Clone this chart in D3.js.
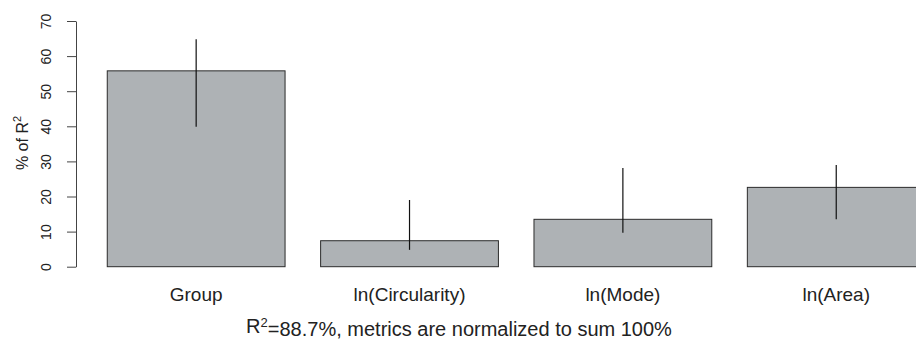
<!DOCTYPE html>
<html>
<head>
<meta charset="utf-8">
<script src="https://cdn.jsdelivr.net/npm/d3@7"></script>
<style>
  body { margin: 0; background: #fff; }
  svg { display: block; font-family: "Liberation Sans", Arial, Helvetica, sans-serif; }
</style>
</head>
<body>
<svg width="916" height="343"></svg>
<script>
// data
const categories = ["Group", "ln(Circularity)", "ln(Mode)", "ln(Area)"];
const values = [55.8, 7.4, 13.5, 22.6];
const lower = [39.9, 4.8, 9.7, 13.5];
const upper = [64.8, 19.0, 28.1, 29.0];
const yTicks = [0, 10, 20, 30, 40, 50, 60, 70];

const svg = d3.select("svg");

// R barplot style: width 1, space 0.2
const x = d3.scaleLinear().domain([0, 5]).range([71.7, 960.7]);
const y = d3.scaleLinear().domain([0, 70]).range([266.7, 21]);

const barLeft = i => 0.2 + i * 1.2;

// bars
svg.selectAll("rect.bar")
  .data(values)
  .enter()
  .append("rect")
  .attr("class", "bar")
  .attr("x", (d, i) => x(barLeft(i)))
  .attr("y", d => y(d))
  .attr("width", x(1) - x(0))
  .attr("height", d => y(0) - y(d))
  .attr("fill", "#aeb2b5")
  .attr("stroke", "#2b2b2b")
  .attr("stroke-width", 1);

// error bars
svg.selectAll("line.err")
  .data(values)
  .enter()
  .append("line")
  .attr("class", "err")
  .attr("x1", (d, i) => x(barLeft(i) + 0.5))
  .attr("x2", (d, i) => x(barLeft(i) + 0.5))
  .attr("y1", (d, i) => y(lower[i]))
  .attr("y2", (d, i) => y(upper[i]))
  .attr("stroke", "#111")
  .attr("stroke-width", 1.2);

// y axis
const yAxis = svg.append("g")
  .attr("transform", "translate(76,0)")
  .call(d3.axisLeft(y).tickValues(yTicks).tickSize(9).tickSizeOuter(0));

yAxis.select(".domain").attr("stroke", "#444");
yAxis.selectAll(".tick line").attr("stroke", "#444");
yAxis.selectAll(".tick text")
  .attr("transform", "rotate(-90)")
  .attr("x", 0)
  .attr("y", -30)
  .attr("dy", null)
  .attr("dominant-baseline", "central")
  .attr("text-anchor", "middle")
  .attr("fill", "#222")
  .style("font-size", "14px")
  .style("font-family", "'Liberation Sans', Arial, sans-serif");

// y title
const yTitle = svg.append("text")
  .attr("transform", "translate(22,143) rotate(-90)")
  .attr("text-anchor", "middle")
  .attr("dominant-baseline", "central")
  .attr("fill", "#222")
  .style("font-size", "16px");
yTitle.append("tspan").text("% of R");
yTitle.append("tspan").attr("dy", "-0.45em").style("font-size", "11px").text("2");

// category labels
svg.selectAll("text.cat")
  .data(categories)
  .enter()
  .append("text")
  .attr("class", "cat")
  .attr("x", (d, i) => x(barLeft(i) + 0.5))
  .attr("y", 301)
  .attr("text-anchor", "middle")
  .attr("fill", "#222")
  .style("font-size", "19px")
  .text(d => d);

// bottom title
const xTitle = svg.append("text")
  .attr("x", 459)
  .attr("y", 333)
  .attr("text-anchor", "middle")
  .attr("fill", "#222")
  .style("font-size", "20px");
xTitle.append("tspan").text("R");
xTitle.append("tspan").attr("dy", "-0.45em").style("font-size", "13px").text("2");
xTitle.append("tspan").attr("dy", "0.45em").text("=88.7%, metrics are normalized to sum 100%");
</script>
</body>
</html>
